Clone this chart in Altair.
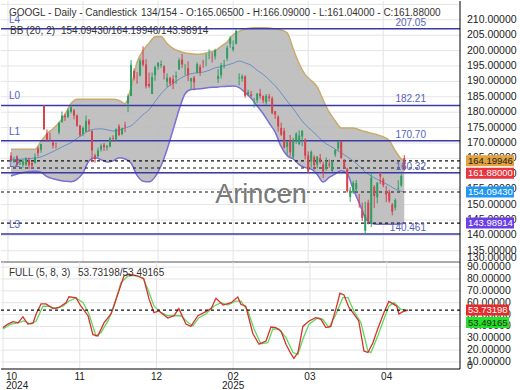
import altair as alt
import pandas as pd

# ---------------- price data (daily OHLC, bar index 0 = first candle) ----------------
opens = [165.9,164.2,165.6,163.3,162.9,162.9,164.6,163.5,163.5,168.2,167.8,182.2,173.1,171.4,170.2,169.8,173.4,176.9,178.8,178.5,
         180.1,180.6,178.9,175.7,173.0,173.7,177.3,173.9,165.9,165.6,167.9,169.4,168.5,168.8,171.5,171.1,175.4,172.9,175.7,182.9,
         185.3,193.4,189.9,191.9,196.9,195.5,189.2,185.9,192.0,194.8,195.2,194.9,189.8,191.1,190.7,191.4,193.9,197.1,193.9,194.3,
         190.0,191.2,193.0,194.7,196.1,197.5,198.3,197.9,198.1,190.8,192.0,195.3,197.5,202.2,200.3,202.2,191.1,190.9,191.6,185.9,
         185.8,183.6,183.9,186.1,185.3,183.2,185.1,184.5,180.3,178.5,174.9,173.9,168.7,170.9,165.4,170.7,169.7,172.1,171.1,166.0,
         164.0,165.4,163.0,165.1,163.0,161.6,163.1,160.9,166.3,168.2,170.5,164.3,161.5,152.5,153.9,154.9,150.8,148.0,141.5,150.6,
         143.9,155.8,152.4,159.9,158.2,154.1,154.0,150.0,149.0,155.1,156.2,165.065]
highs = [167.0,165.5,166.0,164.3,164.7,165.4,165.3,163.9,166.6,168.8,169.7,182.2,174.4,173.3,170.6,170.1,176.9,180.2,179.5,181.2,
         182.2,181.0,179.3,175.8,175.4,178.9,177.8,174.1,166.5,168.5,169.8,170.0,169.4,172.0,172.5,174.8,176.1,175.0,176.9,185.9,
         196.9,194.2,193.0,197.5,201.4,197.2,192.9,192.9,195.1,196.1,196.8,195.3,192.6,191.5,192.0,193.2,197.6,198.9,195.6,196.5,
         191.2,191.8,196.2,195.5,197.0,198.9,200.4,199.4,200.6,194.0,196.0,197.0,201.6,204.7,203.3,207.05,192.6,192.3,192.0,187.3,
         186.9,184.6,186.2,187.6,185.4,185.9,186.0,185.1,180.4,179.0,176.6,174.9,170.6,172.6,171.7,173.5,174.1,174.2,171.5,167.3,
         167.6,166.0,165.8,166.4,163.9,165.3,164.6,164.5,168.0,170.7,170.8,164.8,161.9,155.7,157.7,158.0,153.4,150.6,150.9,151.6,
         160.3,156.3,157.3,160.7,158.8,156.0,154.8,150.5,152.0,157.9,159.9,166.09]
lows = [163.8,163.5,162.4,162.8,162.0,162.5,161.6,161.7,163.3,165.6,166.8,174.2,170.5,170.7,168.2,168.2,172.8,176.5,177.2,178.1,
        179.6,177.7,175.3,172.1,172.2,173.6,173.7,163.7,163.6,165.4,167.2,167.4,167.5,168.6,170.4,170.6,172.2,172.5,173.5,180.0,
        185.2,190.3,189.2,191.6,194.8,187.7,187.9,185.9,190.2,193.8,194.4,190.6,188.1,188.5,187.5,189.2,193.7,194.4,192.0,190.1,
        187.4,187.1,192.5,191.8,194.4,194.9,197.2,196.1,197.1,189.5,190.9,194.2,196.6,200.9,199.7,202.0,188.7,189.9,184.7,185.2,
        184.8,181.5,183.0,184.4,182.9,182.4,183.5,179.3,177.8,173.7,172.3,168.2,166.2,165.6,164.8,169.7,169.3,169.0,164.7,160.3,
        162.0,161.3,161.8,163.3,158.6,161.0,162.0,160.6,165.5,167.5,164.9,161.6,153.9,150.9,153.5,154.3,149.0,144.7,140.461,143.6,
        142.7,148.9,150.4,156.7,155.6,150.8,150.6,146.5,148.1,154.7,155.8,161.04]
closes = [164.2,164.6,162.9,163.4,164.1,165.1,162.8,162.7,165.3,166.7,169.7,174.5,171.1,171.3,169.2,169.7,176.5,178.9,178.4,180.5,
          181.6,178.9,175.6,172.5,174.9,177.2,176.0,167.6,164.8,167.6,169.1,168.6,168.95,171.5,171.3,174.4,172.6,174.7,175.4,185.2,
          195.4,191.0,189.8,196.7,195.4,188.4,188.5,191.4,194.6,196.1,195.6,192.8,191.2,189.3,189.4,191.8,196.9,195.5,193.95,192.0,
          191.0,189.7,195.6,192.9,196.0,197.55,198.4,197.8,200.2,191.8,195.3,195.4,200.9,204.0,201.2,206.4,191.3,191.6,185.3,186.5,
          185.3,183.6,186.1,185.2,183.8,185.3,184.6,179.7,179.2,175.4,172.7,168.5,170.3,167.0,170.9,173.0,172.4,173.9,165.9,160.7,
          167.1,162.8,165.5,164.3,160.7,163.9,162.8,164.0,167.7,170.6,165.1,162.2,154.3,154.6,157.1,157.0,150.7,145.6,146.75,144.7,
          158.7,152.8,157.1,159.1,156.3,153.3,151.2,147.7,151.5,155.35,159.3,161.88]

# ---------------- Bollinger band (20, 2) ----------------
bb_bar = [0, 4, 8] + list(range(10, 131, 2)) + [131]
bb_up = [168.0,168.0,168.0,170.5,173.0,174.6,176.6,179.3,182.8,184.2,184.2,184.2,184.2,184.2,184.2,184.2,183.8,182.8,188.0,196.2,
         200.0,202.4,204.5,204.6,202.3,200.7,199.8,199.2,199.0,198.8,199.0,199.5,200.0,201.4,202.8,205.1,206.3,207.0,207.3,207.4,
         207.4,207.3,207.0,206.7,205.8,200.6,195.7,192.2,190.3,188.2,183.9,180.0,177.2,174.9,174.9,174.9,174.3,173.7,173.2,172.7,
         172.0,170.8,167.5,164.8,164.2]
bb_mid = [164.5,164.8,165.1,165.5,166.3,167.2,168.2,169.2,170.1,171.5,172.8,174.0,174.5,174.6,174.3,173.9,174.2,174.9,175.6,177.3,
          179.2,180.8,183.4,186.0,188.0,189.4,190.7,191.8,192.5,192.8,193.0,193.6,194.4,194.8,195.3,195.9,196.6,196.0,195.2,193.6,
          192.3,190.5,188.6,186.2,183.6,181.2,178.4,176.0,174.2,172.4,170.4,169.2,168.0,166.8,165.5,164.2,162.5,160.6,159.3,158.2,
          157.2,156.2,155.0,154.3,154.09]
bb_lo = [159.3,160.4,160.8,160.5,159.1,158.4,157.9,157.6,157.4,158.2,160.3,164.2,165.2,164.6,163.8,164.2,165.2,164.8,163.5,159.5,
         157.6,157.4,159.0,162.6,167.9,174.3,180.8,186.0,187.4,187.5,187.7,188.0,188.1,188.3,188.4,188.5,188.0,186.4,184.5,182.0,
         179.5,176.5,173.5,168.8,165.9,164.8,163.0,162.0,161.5,159.8,157.3,158.8,160.0,161.0,160.0,155.0,150.5,145.8,143.9,143.6,
         143.6,143.6,143.6,143.8,143.99]

# ---------------- Full stochastic (5, 8, 3) ----------------
k_bar = [-1,0.6,2.3,3.9,5.5,7.1,8.8,9.8,11.4,13.0,15.3,17.2,19.5,20.5,22.8,24.4,26.7,28.3,29.9,31.9,34.2,36.5,38.4,40.0,43.0,
         44.9,46.6,48.2,49.8,52.7,54.7,56.3,58.6,60.2,62.5,64.5,66.8,68.4,70.7,73.3,75.5,76.5,78.1,80.4,82.4,84.7,86.3,87.9,89.6,
         91.2,92.8,93.8,95.1,96.7,98.7,100.9,102.6,104.2,105.8,107.5,108.8,110.1,111.7,113.3,114.9,116.6,117.9,119.5,121.1,123.1,
         124.7,126.4,127.3,128.0,129.3,131]
k_val = [39,42,44,43,48,42,43,50.5,59,59,55,56,60,65,64,57,49,33,32,43,50.5,68,82.5,84,82.5,80,63,51.6,53,47,49,55,42,40,49,
         51.6,55,63.7,58,60,64.8,58.6,57,34,25,27.7,39.5,39,36,25,17,13,18,40,44.6,47.4,46,39,40,55,68,66.5,56,50.5,44.6,19.3,18,
         26,38,51.6,61,58.6,57,50.5,52.4,53.73]
d_bar = [-1,1.6,3.9,5.8,8.1,9.8,12.0,14.0,16.3,18.5,20.5,22.8,25.1,27.0,29.3,30.9,33.2,35.2,37.4,39.7,41.7,44.6,46.2,48.2,50.5,
         52.7,54.7,57.0,59.3,60.9,62.8,65.1,67.7,70.0,72.3,74.9,76.5,78.8,80.8,83.0,85.3,86.9,88.9,91.2,93.5,95.1,96.7,98.7,101.6,
         103.2,105.2,107.5,109.7,111.4,113.3,115.6,117.9,118.9,121.1,123.1,124.7,126.4,128.6,131]
d_val = [37.8,42,43,44.6,42,44.6,57,57,55,57,61.4,64,60,50.5,32,34.7,44.6,57,76.8,82.5,83,81,71.3,57,51.6,49,49,49,43.2,40.4,
         47.4,50.5,57,60,58,61.4,61.4,53,37.8,25.3,26.3,37.8,37.8,30.5,18,16.5,29.2,41.8,47.4,46,39,50.2,64.2,64.2,53,43.2,19.3,
         18,32,46,57,60,54.4,53.49]

# ---------------- levels, tags, ticks ----------------
level_names = ["L4", "L0", "L1", "L2", "L3"]
level_vals = [207.05, 182.21, 170.70, 160.32, 140.461]
level_text = ["207.05", "182.21", "170.70", "160.32", "140.461"]

tag_vals = [164.19946, 161.88, 154.0943, 143.98914]
tag_text = ["164.19946", "161.88000", "154.09430", "143.98914"]
tag_fill = ["#e2a33c", "#e8363e", "#2196f3", "#6a3fe8"]
tag_ink = ["#222222", "#ffffff", "#ffffff", "#ffffff"]

sto_vals = [53.73198, 53.49165]
sto_text = ["53.73198", "53.49165"]
sto_fill = ["#e62a2a", "#27e027"]
sto_ink = ["#ffffff", "#143014"]

grid_bars = [-1, 24, 49, 74, 99, 124]
month_lbl = ["10", "11", "12", "02", "03", "04"]
year_lbl = ["2024", "", "", "2025", "", ""]

main_ticks = list(range(135, 215, 5))
main_grid = list(range(135, 220, 5))
sto_ticks = [10, 20, 30, 40, 50, 60, 70, 80, 90]

# ---------------- layout ----------------
FONT = "Liberation Sans"
W, HM, HS = 459, 261, 107
XD = [-1.65, 147.9]
YD = [131.36, 216.1]
SD = [4.1, 94.3]
GRID = "#e4e4e4"
UP, DN = "#2f9e63", "#d4434e"
LBL = "#222222"

xs = alt.Scale(domain=XD, nice=False, zero=False)
ys = alt.Scale(domain=YD, nice=False, zero=False)
ss = alt.Scale(domain=SD, nice=False, zero=False)


def Xb(f="bar:Q"):
    return alt.X(f, scale=xs, axis=None)


def Ym(f):
    return alt.Y(f, scale=ys, axis=None)


def Ys(f):
    return alt.Y(f, scale=ss, axis=None)


def place(vals, gap):
    out = []
    for v in vals:
        out.append(v if not out else min(v, out[-1] - gap))
    return out


def one():
    return alt.Chart(pd.DataFrame({"a": [0]}))


def txt(s, x, y, size=10, align="left", color="#333333", baseline="middle"):
    return alt.Chart(pd.DataFrame({"t": [s]})).mark_text(
        align=align, baseline=baseline, fontSize=size, font=FONT, color=color
    ).encode(x=alt.value(x), y=alt.value(y), text="t:N")


def frame(Yf, ticks, grid_vals, h):
    """grid lines, right-hand tick labels and right border of a panel"""
    hgrid = alt.Chart(pd.DataFrame({"v": grid_vals})).mark_rule(color=GRID, strokeWidth=1).encode(y=Yf("v:Q"))
    vgrid = alt.Chart(pd.DataFrame({"b": grid_bars})).mark_rule(color=GRID, strokeWidth=1).encode(x=Xb("b:Q"))
    labels = alt.Chart(pd.DataFrame({"v": ticks})).transform_calculate(
        t="format(datum.v, '.5f')"
    ).mark_text(align="left", baseline="middle", fontSize=10.5, font=FONT, color=LBL).encode(
        x=alt.value(W + 7), y=Yf("v:Q"), text="t:N")
    border = one().mark_rule(color="#000000", strokeWidth=1).encode(
        x=alt.value(W), y=alt.value(0), y2=alt.value(h))
    return [hgrid, vgrid], [labels, border]


cdf = pd.DataFrame(dict(bar=list(range(len(closes))), o=opens, h=highs, l=lows, c=closes))
cdf["dir"] = ["up" if c >= o else "down" for o, c in zip(opens, closes)]
bdf = pd.DataFrame(dict(bar=bb_bar, up=bb_up, mid=bb_mid, lo=bb_lo))
ldf = pd.DataFrame(dict(name=level_names, val=level_vals, txt=level_text))
ddf = pd.DataFrame(dict(val=tag_vals))
tdf = pd.DataFrame(dict(pos=place(tag_vals, 12.5 * (YD[1] - YD[0]) / HM), txt=tag_text, fill=tag_fill, ink=tag_ink))

m_under, m_over = frame(Ym, main_ticks, main_grid, HM)

band = alt.Chart(bdf).mark_area(color="#bcbcbc", opacity=0.92, interpolate="monotone").encode(
    x=Xb(), y=Ym("up:Q"), y2="lo:Q")
up_line = alt.Chart(bdf).mark_line(color="#c9ab6c", strokeWidth=1.5, interpolate="monotone").encode(x=Xb(), y=Ym("up:Q"))
mid_line = alt.Chart(bdf).mark_line(color="#6b8fc4", strokeWidth=1, interpolate="monotone").encode(x=Xb(), y=Ym("mid:Q"))
lo_line = alt.Chart(bdf).mark_line(color="#7a6fd8", strokeWidth=1.5, interpolate="monotone").encode(x=Xb(), y=Ym("lo:Q"))

lrule = alt.Chart(ldf).mark_rule(color="#3a3aa6", strokeWidth=1.5).encode(y=Ym("val:Q"))
lname = alt.Chart(ldf).mark_text(align="left", baseline="alphabetic", dy=-6, fontSize=10, font=FONT,
                                 color="#5563bd").encode(x=alt.value(8), y=Ym("val:Q"), text="name:N")
lval = alt.Chart(ldf).mark_text(align="right", baseline="alphabetic", dy=-3, fontSize=10, font=FONT,
                                color="#5563bd").encode(x=alt.value(425), y=Ym("val:Q"), text="txt:N")
drule = alt.Chart(ddf).mark_rule(color="#111111", strokeWidth=1.1, strokeDash=[3, 3]).encode(y=Ym("val:Q"))

ccol = alt.Color("dir:N", scale=alt.Scale(domain=["up", "down"], range=[UP, DN]), legend=None)
wick = alt.Chart(cdf).mark_rule(strokeWidth=1).encode(x=Xb(), y=Ym("l:Q"), y2="h:Q", color=ccol)
body = alt.Chart(cdf).mark_bar(size=2).encode(x=Xb(), y=Ym("o:Q"), y2="c:Q", color=ccol)

wm = txt("Arincen", 260, 202, size=27, align="center", color="#7a7a7a", baseline="alphabetic")

trect = alt.Chart(tdf).mark_rect(yOffset=-5.5, y2Offset=5.5).encode(
    x=alt.value(465), x2=alt.value(513), y=Ym("pos:Q"), y2="pos:Q", color=alt.Color("fill:N", scale=None))
ttext = alt.Chart(tdf).mark_text(align="left", baseline="middle", fontSize=9.5, font=FONT).encode(
    x=alt.value(467), y=Ym("pos:Q"), text="txt:N", color=alt.Color("ink:N", scale=None))

separator = one().mark_rule(color="#555555", strokeWidth=1).encode(
    x=alt.value(0), x2=alt.value(W), y=alt.value(HM))

main = alt.layer(
    *m_under, band, up_line, mid_line, lo_line, lrule, drule, wick, body, lname, lval, wm,
    txt("GOOGL - Daily - Candlestick", 8, 12),
    txt("134/154 - O:165.06500 - H:166.09000 - L:161.04000 - C:161.88000", 140, 12),
    txt("BB (20, 2)", 9, 30),
    txt("154.09430/164.19946/143.98914", 60, 30),
    *m_over, separator, trect, ttext,
    txt("130.00000", W + 7, 257, size=10.5, color=LBL),
).properties(width=W, height=HM)

# ---------------- stochastic panel ----------------
kdf = pd.DataFrame(dict(bar=k_bar, v=k_val))
d2 = pd.DataFrame(dict(bar=d_bar, v=d_val))
sdf = pd.DataFrame(dict(pos=place(sto_vals, 12.5 * (SD[1] - SD[0]) / HS), txt=sto_text, fill=sto_fill, ink=sto_ink))
xl = pd.DataFrame(dict(b=grid_bars, m=month_lbl, y=year_lbl))

s_under, s_over = frame(Ys, sto_ticks, sto_ticks, HS)

dline = alt.Chart(d2).mark_line(color="#5fd85f", strokeWidth=1.3).encode(x=Xb(), y=Ys("v:Q"))
kline = alt.Chart(kdf).mark_line(color="#d93030", strokeWidth=1.3).encode(x=Xb(), y=Ys("v:Q"))
srule = alt.Chart(pd.DataFrame(dict(val=sto_vals[:1]))).mark_rule(
    color="#111111", strokeWidth=1.1, strokeDash=[3, 3]).encode(y=Ys("val:Q"))
srect = alt.Chart(sdf).mark_rect(yOffset=-5.5, y2Offset=5.5).encode(
    x=alt.value(465), x2=alt.value(508), y=Ys("pos:Q"), y2="pos:Q", color=alt.Color("fill:N", scale=None))
stext = alt.Chart(sdf).mark_text(align="left", baseline="middle", fontSize=9.5, font=FONT).encode(
    x=alt.value(467), y=Ys("pos:Q"), text="txt:N", color=alt.Color("ink:N", scale=None))
bottom = one().mark_rule(color="#000000", strokeWidth=1).encode(
    x=alt.value(0), x2=alt.value(W), y=alt.value(HS))


def xlabels(field, y, first):
    base = alt.Chart(xl).transform_filter("datum.b < 0" if first else "datum.b >= 0")
    return base.mark_text(align="left" if first else "center", baseline="middle", fontSize=10, font=FONT,
                          color=LBL, dx=3 if first else 0).encode(x=Xb("b:Q"), y=alt.value(y), text=f"{field}:N")


sto = alt.layer(
    *s_under, dline, kline, srule,
    txt("FULL (5, 8, 3)", 8, 11),
    txt("53.73198/53.49165", 77, 11),
    *s_over, bottom, srect, stext,
    txt("0", W + 7, 104, size=10.5, color=LBL),
    xlabels("m", HS + 7.5, True), xlabels("m", HS + 7.5, False),
    xlabels("y", HS + 16.5, True), xlabels("y", HS + 16.5, False),
).properties(width=W, height=HS)

chart = alt.vconcat(main, sto, spacing=0, bounds="flush").properties(
    padding=0, background="white").configure_view(stroke=None)

chart.save("out.html", embed_options={"renderer": "svg", "actions": False})
